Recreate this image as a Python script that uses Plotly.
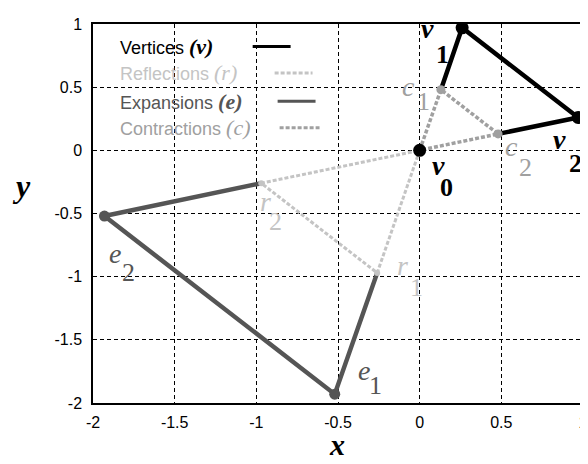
import plotly.graph_objects as go

# ---- data ----
v_x = [0.0, 0.26, 0.97]
v_y = [0.0, 0.97, 0.26]
r_x = [-0.26, -0.97]
r_y = [-0.97, -0.26]
e_x = [-0.52, -1.93]
e_y = [-1.93, -0.52]
c_x = [0.13, 0.48]
c_y = [0.48, 0.13]
x_ticks = [-2, -1.5, -1, -0.5, 0, 0.5, 1]
y_ticks = [-2, -1.5, -1, -0.5, 0, 0.5, 1]
x_tick_text = ["-2", "-1.5", "-1", "-0.5", "0", "0.5", "1"]
y_tick_text = ["-2", "-1.5", "-1", "-0.5", "0", "0.5", "1"]

BLACK = "#000000"
C_R = "#c4c4c4"
C_E = "#555555"
C_C = "#a0a0a0"
SERIF = "Liberation Serif"
SANS = "Liberation Sans"

fig = go.Figure()

# Reflections: v0 -> r1 -> r2 -> v0
fig.add_trace(go.Scatter(
    x=[v_x[0], r_x[0], r_x[1], v_x[0]], y=[v_y[0], r_y[0], r_y[1], v_y[0]],
    mode="lines", line=dict(color=C_R, width=3, dash="4px,2px"), hoverinfo="skip"))
# Expansions: r2 -> e2 -> e1 -> r1
fig.add_trace(go.Scatter(
    x=[r_x[1], e_x[1], e_x[0], r_x[0]], y=[r_y[1], e_y[1], e_y[0], r_y[0]],
    mode="lines", line=dict(color=C_E, width=4.5), hoverinfo="skip"))
# Contractions: v0 -> c1 -> c2 -> v0
fig.add_trace(go.Scatter(
    x=[v_x[0], c_x[0], c_x[1], v_x[0]], y=[v_y[0], c_y[0], c_y[1], v_y[0]],
    mode="lines", line=dict(color=C_C, width=3.5, dash="4px,2px"), hoverinfo="skip"))
# Vertices: c1 -> v1 -> v2 -> c2
fig.add_trace(go.Scatter(
    x=[c_x[0], v_x[1], v_x[2], c_x[1]], y=[c_y[0], v_y[1], v_y[2], c_y[1]],
    mode="lines", line=dict(color=BLACK, width=4.5), hoverinfo="skip"))
# markers
fig.add_trace(go.Scatter(x=r_x, y=r_y, mode="markers",
                         marker=dict(color=C_R, size=6), hoverinfo="skip"))
fig.add_trace(go.Scatter(x=c_x, y=c_y, mode="markers",
                         marker=dict(color=C_C, size=9), hoverinfo="skip"))
fig.add_trace(go.Scatter(x=e_x, y=e_y, mode="markers",
                         marker=dict(color=C_E, size=11), hoverinfo="skip"))
fig.add_trace(go.Scatter(x=v_x, y=v_y, mode="markers",
                         marker=dict(color=BLACK, size=13), hoverinfo="skip"))

annotations = []

def point_label(x, y, letter, sub, color, lshift, sshift, bold=True):
    lt = f"<b><i>{letter}</i></b>" if bold else f"<i>{letter}</i>"
    st = f"<b>{sub}</b>" if bold else sub
    annotations.append(dict(x=x, y=y, xref="x", yref="y", text=lt, showarrow=False,
                            xanchor="center", yanchor="middle",
                            xshift=lshift[0], yshift=lshift[1],
                            font=dict(family=SERIF, size=28, color=color)))
    annotations.append(dict(x=x, y=y, xref="x", yref="y", text=st, showarrow=False,
                            xanchor="center", yanchor="middle",
                            xshift=sshift[0], yshift=sshift[1],
                            font=dict(family=SERIF, size=26, color=color)))

point_label(v_x[0], v_y[0], "v", "0", BLACK, (19, -15), (27, -37))
point_label(v_x[1], v_y[1], "v", "1", BLACK, (-35, -1), (-20, -27))
point_label(v_x[2], v_y[2], "v", "2", BLACK, (-19, -22), (-3, -46))
point_label(c_x[0], c_y[0], "c", "1", C_C, (-32, 3), (-17, -12), bold=False)
point_label(c_x[1], c_y[1], "c", "2", C_C, (13, -13), (27, -34), bold=False)
point_label(e_x[1], e_y[1], "e", "2", C_E, (11, -37), (24, -56), bold=False)
point_label(r_x[1], r_y[1], "r", "2", C_R, (4, -18), (14, -38), bold=False)
point_label(e_x[0], e_y[0], "e", "1", C_E, (29, 24), (41, 9), bold=False)
point_label(r_x[0], r_y[0], "r", "1", C_R, (25, 7), (39, -15), bold=False)

# ---- plot-area geometry in page pixels (page body has an 8px offset) ----
OFF = 8
L, R, T, B = 93, 584, 16, 403
W, H = 588, 464

def px(xp):
    return (xp - L) / (R - L)

def py(yp):
    return (B - yp) / (B - T)

# ---- legend (drawn manually: text first, line sample to the right) ----
legend_items = [
    ("Vertices", BLACK, 39, 253, 291, "solid", "<b><i>(v)</i></b>"),
    ("Reflections", C_R, 66, 275, 313, "4px,2px", "<i>(r)</i>"),
    ("Expansions", C_E, 95, 278, 316, "solid", "<b><i>(e)</i></b>"),
    ("Contractions", C_C, 122, 280, 320, "4px,2px", "<i>(c)</i>"),
]
shapes = []
for name, col, yy, x0, x1, dash, symtxt in legend_items:
    annotations.append(dict(
        x=px(118), y=py(yy), xref="paper", yref="paper", xanchor="left", yanchor="middle",
        showarrow=False,
        text=f"{name} <span style=\"font-family:'{SERIF}';font-size:22px\">{symtxt}</span>",
        font=dict(family=SANS, size=18, color=col)))
    shapes.append(dict(type="line", xref="paper", yref="paper",
                       x0=px(x0), x1=px(x1), y0=py(yy), y1=py(yy),
                       line=dict(color=col, width=3, dash=dash)))

# axis titles
annotations.append(dict(x=px(337), y=py(445), xref="paper", yref="paper", showarrow=False,
                        xanchor="center", yanchor="middle",
                        text="<b><i>x</i></b>", font=dict(family=SERIF, size=30, color=BLACK)))
annotations.append(dict(x=px(21), y=py(181), xref="paper", yref="paper", showarrow=False,
                        xanchor="center", yanchor="middle",
                        text="<b><i>y</i></b>", font=dict(family=SERIF, size=32, color=BLACK)))

axis_common = dict(
    showgrid=True, gridcolor=BLACK, gridwidth=1, griddash="4px,3px",
    zeroline=False, showline=True, linecolor=BLACK, linewidth=1.5, mirror=True,
    ticks="", tickfont=dict(family=SANS, size=16, color=BLACK),
)
fig.update_xaxes(range=[-2, 1], tickvals=x_ticks, ticktext=x_tick_text,
                 ticklabelstandoff=4, **axis_common)
fig.update_yaxes(range=[-2, 1], tickvals=y_ticks, ticktext=y_tick_text,
                 ticklabelstandoff=6, **axis_common)

fig.update_layout(
    width=W, height=H,
    margin=dict(l=L - OFF, r=W - (R - OFF), t=T - OFF, b=H - (B - OFF), pad=0),
    plot_bgcolor="white", paper_bgcolor="white",
    showlegend=False,
    annotations=annotations, shapes=shapes,
)

fig.write_html("out.html")
